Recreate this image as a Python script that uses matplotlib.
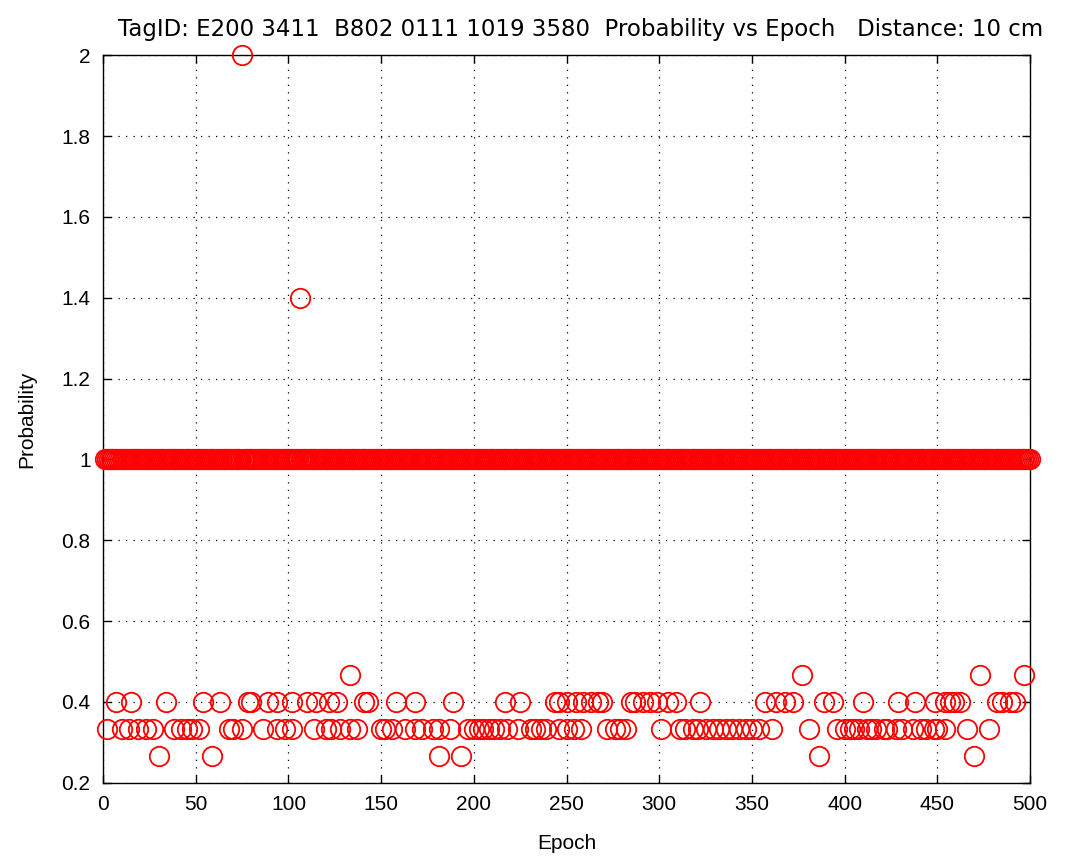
import matplotlib
matplotlib.use("Agg")
import matplotlib.pyplot as plt
import numpy as np

plt.rcParams['font.family'] = ['Liberation Sans', 'DejaVu Sans']

# epochs 1..500, almost every epoch reads probability 1
epochs = np.arange(1, 501)
outlier_epochs = [75, 106]
outlier_probs = [2.0, 1.4]

# lower readings, grouped by level
epochs_047 = [133, 377, 473, 497]
epochs_040 = [7, 15, 34, 54, 63, 78, 80, 89, 94, 102, 110, 115, 122, 126,
              141, 143, 158, 168, 189, 217, 225, 244, 246, 250, 255, 259,
              263, 267, 269, 285, 287, 291, 295, 299, 305, 309, 322, 357,
              363, 368, 372, 389, 394, 410, 429, 438, 449, 454, 457, 459,
              462, 482, 485, 489, 492]
epochs_033 = [2, 10, 14, 19, 23, 27, 38, 42, 45, 48, 52, 68, 70, 75, 86, 94,
              98, 102, 114, 120, 123, 128, 133, 137, 150, 152, 156, 163, 168,
              172, 178, 181, 187, 197, 200, 203, 205, 208, 211, 214, 218, 224,
              231, 233, 236, 239, 246, 250, 254, 258, 272, 276, 279, 282, 301,
              311, 314, 318, 321, 325, 329, 332, 336, 339, 343, 347, 350, 354,
              361, 381, 396, 400, 403, 405, 408, 412, 414, 417, 421, 423, 428,
              431, 437, 441, 444, 448, 450, 454, 466, 478]
epochs_027 = [30, 59, 181, 193, 386, 470]
levels = [0.467, 0.4, 0.333, 0.267]

band_epochs = [e for e in epochs if e not in outlier_epochs]
x = list(band_epochs) + outlier_epochs
y = [1.0] * len(band_epochs) + outlier_probs
for ep, lv in zip([epochs_047, epochs_040, epochs_033, epochs_027], levels):
    x += ep
    y += [lv] * len(ep)

fig = plt.figure(figsize=(10.74, 8.64), dpi=100)
ax = fig.add_axes([0.096, 0.094, 0.863, 0.842])

ax.plot(x, y, 'o', mfc='none', mec='#ff0000', ms=14, mew=1.3, clip_on=False, zorder=3)

ax.set_xlim(0, 500)
ax.set_ylim(0.2, 2)
ax.set_xticks(np.arange(0, 501, 50))
yt = np.round(np.arange(0.2, 2.01, 0.2), 1)
ax.set_yticks(yt)
ax.set_yticklabels([f'{v:g}' for v in yt])
ax.tick_params(direction='in', top=True, right=True, length=6, labelsize=15, width=1, pad=9)
ax.grid(True, linestyle=(0, (1, 5)), color='black', linewidth=0.9)
for s in ax.spines.values():
    s.set_linewidth(1.0)

ax.set_xlabel('Epoch', fontsize=15, labelpad=14)
ax.set_ylabel('Probability', fontsize=15, labelpad=18)
ax.set_title('TagID: E200 3411  B802 0111 1019 3580  Probability vs Epoch   Distance: 10 cm',
             fontsize=16.5, pad=14, family=['DejaVu Sans'], x=0.515)

fig.savefig('out.png', dpi=100)
